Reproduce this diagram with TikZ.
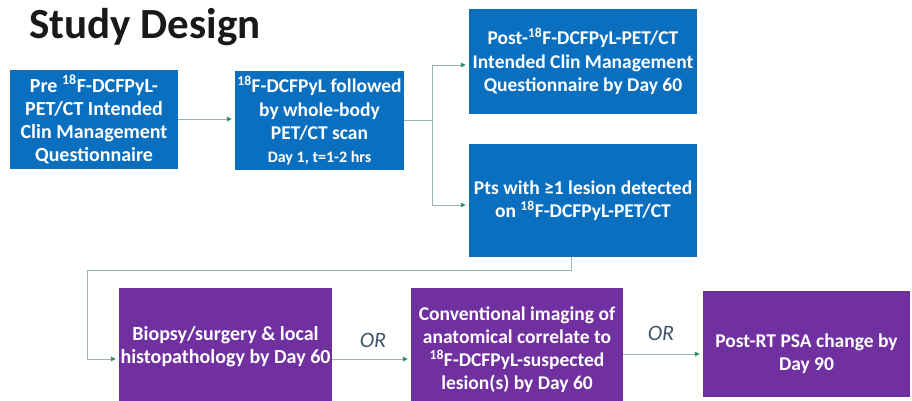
\documentclass[tikz,border=0pt]{standalone}
\usepackage{fontspec}
\setmainfont{Carlito}
\usetikzlibrary{arrows.meta}
\definecolor{boxblue}{HTML}{0B6FC0}
\definecolor{boxpurple}{HTML}{7030A0}
\definecolor{linegray}{HTML}{9AB3AE}
\definecolor{tipgreen}{HTML}{2E8B5A}
\definecolor{ortext}{HTML}{44546A}
\tikzset{
  bluebox/.style={fill=boxblue, draw=none, inner sep=0pt, align=center, text=white,
    font=\bfseries\fontsize{19.5}{23.5}\selectfont},
  purplebox/.style={fill=boxpurple, draw=none, inner sep=0pt, align=center, text=white,
    font=\bfseries\fontsize{19.5}{23}\selectfont},
  bigtext/.style={font=\bfseries\fontsize{20}{23}\selectfont},
  boxtext/.style={inner sep=0pt, align=center, text=white,
    font=\bfseries\fontsize{19.5}{23}\selectfont},
  conn/.style={draw=linegray, line width=0.9pt},
  arr/.style={conn, -{Triangle[length=5pt,width=4.5pt,color=tipgreen]}, shorten >=3pt},
  orlabel/.style={font=\itshape\fontsize{22}{24}\selectfont, text=ortext, inner sep=0pt},
}
\begin{document}
\begin{tikzpicture}[x=1pt,y=-1pt]
\clip (0,0) rectangle (912,400);
\fill[white] (0,0) rectangle (912,400);
\node[anchor=base west, inner sep=0pt, font=\bfseries\fontsize{43}{46}\selectfont, text=black!90] (title) at (29,38) {Study Design};

\node[bluebox, bigtext, minimum width=168pt, minimum height=99pt] (b1) at (94,119.5)
  {Pre \textsuperscript{18}F-DCFPyL-\\PET/CT Intended\\Clin Management\\Questionnaire};
\node[bluebox, minimum width=169pt, minimum height=99pt] (b2) at (319.5,120.5)
  {\textsuperscript{18}F-DCFPyL followed\\by whole-body\\PET/CT scan\\[-1pt]{\fontsize{16}{18}\selectfont Day 1, t=1-2 hrs}};
\node[bluebox, minimum width=228pt, minimum height=105pt] (b3) at (583,61.5)
  {Post-\textsuperscript{18}F-DCFPyL-PET/CT\\Intended Clin Management\\Questionnaire by Day 60};
\node[bluebox, minimum width=228pt, minimum height=113pt] (b4) at (583,200.5)
  {Pts with ≥1 lesion detected\\on \textsuperscript{18}F-DCFPyL-PET/CT};
\node[purplebox, bigtext, minimum width=213pt, minimum height=118pt] (b5) at (225.5,347)
  {Biopsy/surgery \& local\\histopathology by Day 60};
\node[purplebox, minimum width=212pt, minimum height=124pt] (b6) at (517,350)
  {Conventional imaging of\\anatomical correlate to\\\textsuperscript{18}F-DCFPyL-suspected\\lesion(s) by Day 60};
\node[purplebox, minimum width=207pt, minimum height=106pt] (b7) at (806.5,344) {};
\node[boxtext] (t7) at (806.5,354) {Post-RT PSA change by\\Day 90};

\coordinate (j) at (432,120);
\coordinate (jt) at (432,65);
\coordinate (jb) at (432,205);
\coordinate (d1) at (571,270);
\coordinate (d2) at (87,270);
\coordinate (d3) at (87,359);

\draw[arr] (b1.east |- 0,119) -- (b2.west |- 0,119);
\draw[conn] (b2.east |- j) -- (j);
\draw[conn] (jt) -- (jb);
\draw[arr] (jt) -- (b3.west |- jt);
\draw[arr] (jb) -- (b4.west |- jb);
\draw[conn] (b4.south -| d1) -- (d1) -- (d2) -- (d3);
\draw[arr] (d3) -- (b5.west |- d3);
\draw[arr] (b5.east |- 0,359) -- (b6.west |- 0,359);
\draw[arr] (b6.east |- 0,354) -- (b7.west |- 0,354);

\node[orlabel] (or1) at (373,340) {OR};
\node[orlabel] (or2) at (661,333) {OR};
\end{tikzpicture}
\end{document}
